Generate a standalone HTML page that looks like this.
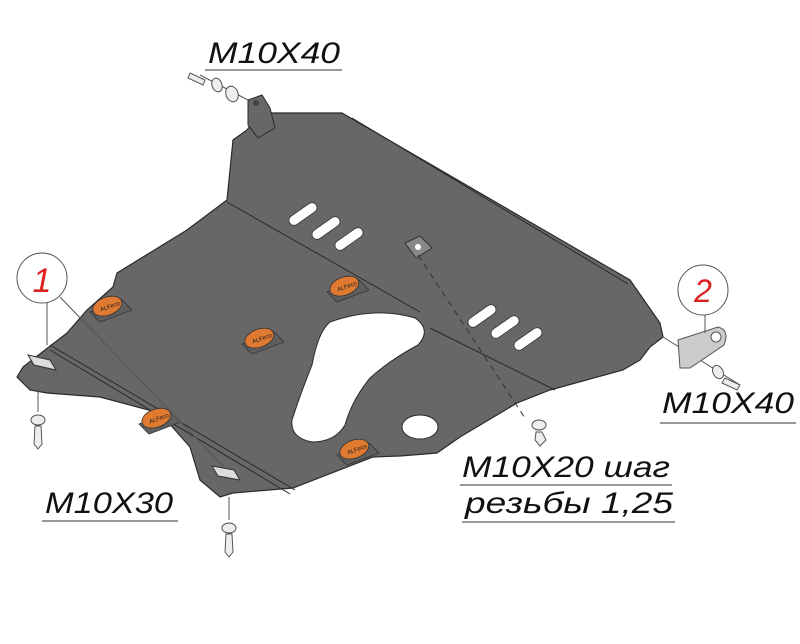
<!DOCTYPE html>
<html><head><meta charset="utf-8"><style>html,body{margin:0;padding:0;background:#fff}svg{display:block}</style></head>
<body>
<svg width="800" height="644" viewBox="0 0 800 644" xmlns="http://www.w3.org/2000/svg">
<defs>
<g id="pad"><path d="M-18,4 L14,-8 L24,2 L-8,14 Z" fill="#5e5e5e" stroke="#333" stroke-width="0.8"/><ellipse cx="0" cy="-2" rx="15" ry="9" fill="#e07a30" stroke="#333" stroke-width="0.8" transform="rotate(-20)"/><text x="-8" y="1" font-family="Liberation Sans,sans-serif" font-size="6" fill="#222" transform="rotate(-20)">ALFeco</text></g>
</defs>
<path d="M247,130 L260,113 L342,113 L630,280 L660,323 L663,337 L650,347 L640,360 L623,370 L550,390 L517,403 L460,437 L437,453 L400,456 L373,457 L293,488 L233,493 L220,497 L200,480 L190,447 L160,413 L100,397 L47,393 L30,390 L17,377 L23,367 L67,333 L87,310 L113,287 L117,273 L187,230 L227,200 L233,140 Z" fill="#676767" stroke="#2a2a2a" stroke-width="1.2"/>
<path d="M248,100 L262,95 L270,108 L275,128 L258,138 L248,125 Z" fill="#676767" stroke="#2a2a2a"/>
<circle cx="256" cy="103" r="3" fill="#444"/>
<path d="M330,322 Q375,306 415,318 Q432,330 418,345 Q390,360 370,378 Q352,400 345,425 Q335,442 312,442 Q290,438 292,420 Q300,395 312,365 Q318,332 330,322 Z" fill="#fff" stroke="#2a2a2a"/>
<ellipse cx="420" cy="427" rx="18" ry="12" fill="#fff" stroke="#2a2a2a"/>
<path d="M227,202 L420,312 M430,328 L555,390 M352,118 L628,284 M50,345 L295,490 M50,350 L290,494" stroke="#2a2a2a" stroke-width="1" fill="none"/>
<g fill="#fff" stroke="#333" stroke-width="0.8">
<rect x="-16" y="-5" width="32" height="10" rx="5" transform="translate(303,214) rotate(-35)"/>
<rect x="-16" y="-5" width="32" height="10" rx="5" transform="translate(326,228) rotate(-35)"/>
<rect x="-16" y="-5" width="32" height="10" rx="5" transform="translate(349,239) rotate(-35)"/>
<rect x="-16" y="-5" width="32" height="10" rx="5" transform="translate(482,316) rotate(-35)"/>
<rect x="-16" y="-5" width="32" height="10" rx="5" transform="translate(505,327) rotate(-35)"/>
<rect x="-16" y="-5" width="32" height="10" rx="5" transform="translate(528,339) rotate(-35)"/>
</g>
<path d="M405,243 L420,236 L432,248 L416,258 Z" fill="#888" stroke="#333"/>
<circle cx="418" cy="247" r="3" fill="#fff"/>
<path d="M418,255 L525,418" stroke="#333" stroke-dasharray="6,5" fill="none"/>
<use href="#pad" x="108" y="308"/>
<use href="#pad" x="345" y="288"/>
<use href="#pad" x="260" y="340"/>
<use href="#pad" x="157" y="420"/>
<use href="#pad" x="355" y="451"/>
<path d="M28,355 L50,360 L56,370 L34,365 Z" fill="#ddd" stroke="#333"/>
<path d="M212,466 L234,470 L240,480 L218,476 Z" fill="#ddd" stroke="#333"/>
<g stroke="#555" fill="#eee">
<line x1="38" y1="390" x2="38" y2="412"/>
<ellipse cx="38" cy="420" rx="7" ry="5"/>
<path d="M35,426 L41,426 L42,444 L38,449 L34,444 Z"/>
<line x1="229" y1="497" x2="229" y2="520"/>
<ellipse cx="229" cy="528" rx="7" ry="5"/>
<path d="M226,534 L232,534 L233,552 L229,557 L225,552 Z"/>
<line x1="200" y1="75" x2="248" y2="100"/>
<path d="M190,73 L205,80 L203,85 L188,78 Z"/>
<ellipse cx="217" cy="85" rx="5" ry="7" transform="rotate(-20 217 85)"/>
<ellipse cx="232" cy="94" rx="6" ry="8" transform="rotate(-20 232 94)"/>
<line x1="663" y1="337" x2="740" y2="385"/>
<path d="M678,340 L718,327 Q730,330 724,345 L690,368 L680,368 Z" fill="#ccc"/>
<circle cx="716" cy="337" r="5" fill="#fff"/>
<ellipse cx="718" cy="372" rx="5" ry="7" transform="rotate(-30 718 372)"/>
<path d="M725,378 L740,385 L737,390 L722,383 Z"/>
<ellipse cx="539" cy="425" rx="7" ry="5"/>
<path d="M536,432 L542,432 L546,440 L540,446 L535,440 Z"/>
</g>
<g fill="#fff" stroke="#555" stroke-width="1">
<line x1="47" y1="298" x2="47" y2="345"/>
<line x1="60" y1="297" x2="225" y2="468"/>
<circle cx="42" cy="278" r="25"/>
<line x1="705" y1="314" x2="705" y2="333"/>
<circle cx="703" cy="290" r="25"/>
</g>
<g font-family="Liberation Sans,sans-serif" font-style="italic">
<text x="42" y="292" font-size="34" fill="#d22" text-anchor="middle">1</text>
<text x="703" y="302" font-size="32" fill="#d22" text-anchor="middle">2</text>
<g font-size="30" fill="#111">
<text x="208" y="63" textLength="132" lengthAdjust="spacingAndGlyphs">M10X40</text>
<text x="45" y="513" textLength="128" lengthAdjust="spacingAndGlyphs">M10X30</text>
<text x="662" y="413" textLength="132" lengthAdjust="spacingAndGlyphs">M10X40</text>
<text x="462" y="477" textLength="208" lengthAdjust="spacingAndGlyphs">M10X20 шаг</text>
<text x="465" y="513" textLength="208" lengthAdjust="spacingAndGlyphs">резьбы 1,25</text>
</g>
</g>
<g stroke="#777" stroke-width="1.5">
<line x1="205" y1="70" x2="342" y2="70"/>
<line x1="42" y1="521" x2="178" y2="521"/>
<line x1="660" y1="423" x2="796" y2="423"/>
<line x1="460" y1="485" x2="672" y2="485"/>
<line x1="462" y1="522" x2="675" y2="522"/>
</g>
</svg>
</body></html>
